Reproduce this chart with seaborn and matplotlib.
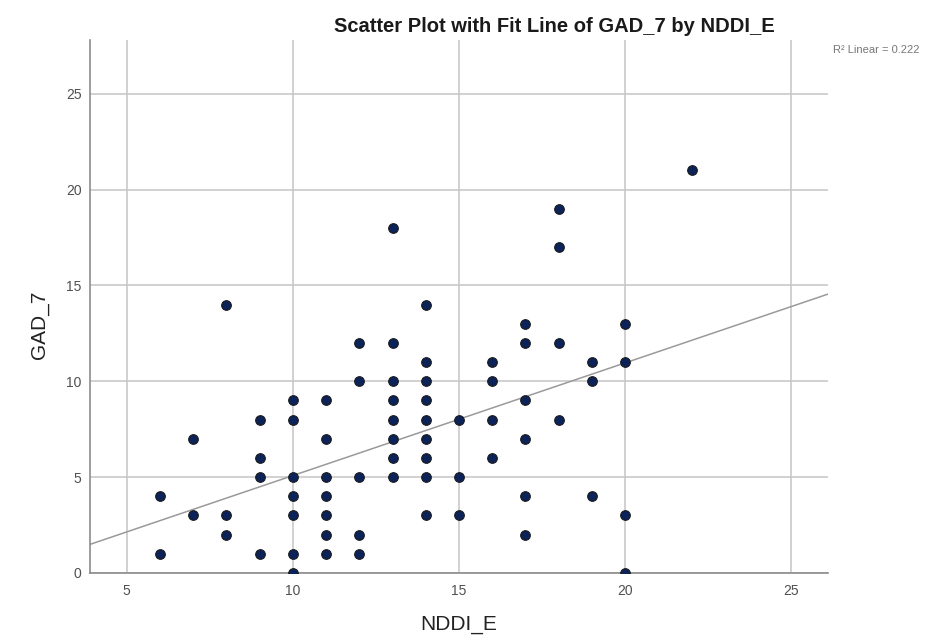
import numpy as np
import pandas as pd
import matplotlib
matplotlib.use("Agg")
import matplotlib.pyplot as plt
import seaborn as sns

# ---- data ----
nddi_e = (
    [6] * 2 + [7] * 2 + [8] * 3 + [9] * 4 + [10] * 7 + [11] * 7 + [12] * 5 +
    [13] * 8 + [14] * 9 + [15] * 3 + [16] * 4 + [17] * 6 + [18] * 4 +
    [19] * 3 + [20] * 4 + [22] * 1
)
gad_7 = [
    4, 1,
    7, 3,
    14, 3, 2,
    8, 6, 5, 1,
    9, 8, 5, 4, 3, 1, 0,
    9, 7, 5, 4, 3, 2, 1,
    12, 10, 5, 2, 1,
    18, 12, 10, 9, 8, 7, 6, 5,
    14, 11, 10, 9, 8, 7, 6, 5, 3,
    8, 5, 3,
    11, 10, 8, 6,
    13, 12, 9, 7, 4, 2,
    19, 17, 12, 8,
    11, 10, 4,
    13, 11, 3, 0,
    21,
]
# linear fit shown in the reference (the full data
# set behind it includes overlapping cases that cannot be seen)
fit_slope = 0.588
fit_intercept = -0.80
x_ticks = [5, 10, 15, 20, 25]
y_ticks = [0, 5, 10, 15, 20, 25]
title = "Scatter Plot with Fit Line of GAD_7 by NDDI_E"
r2_label = "R\u00b2 Linear = 0.222"

df = pd.DataFrame({"NDDI_E": nddi_e, "GAD_7": gad_7})

sns.set_style("white")
plt.rcParams["font.family"] = ["Liberation Sans", "DejaVu Sans"]

fig = plt.figure(figsize=(9.41, 6.39), dpi=100)
ax = fig.add_axes([90 / 941, 1 - 573 / 639, (828 - 90) / 941, (573 - 40) / 639])
xlim = (3.9, 26.1)
ylim = (0, 27.8)
ax.set_xlim(*xlim)
ax.set_ylim(*ylim)

grid_c = "#c9c9c9"
ax.set_xticks(x_ticks)
ax.set_yticks(y_ticks)
ax.grid(True, color=grid_c, linewidth=1.2)
ax.set_axisbelow(True)

# fit line across the full x range
fit_df = pd.DataFrame({"x": list(xlim)})
fit_df["y"] = fit_intercept + fit_slope * fit_df["x"]
sns.lineplot(data=fit_df, x="x", y="y", ax=ax, color="#9a9a9a", linewidth=1.1, zorder=2)

sns.scatterplot(
    data=df, x="NDDI_E", y="GAD_7", ax=ax, s=48, color="#0b2358",
    edgecolor="#1a1a1a", linewidth=0.8, zorder=3,
)
ax.set_xlim(*xlim)
ax.set_ylim(*ylim)

for s in ["top", "right"]:
    ax.spines[s].set_visible(False)
for s in ["left", "bottom"]:
    ax.spines[s].set_color("#8c8c8c")
    ax.spines[s].set_linewidth(1.2)

ax.tick_params(axis="both", length=0, labelsize=10, labelcolor="#505050")
ax.tick_params(axis="x", pad=8)
ax.tick_params(axis="y", pad=6)

ax.set_xlabel("")
ax.set_ylabel("")
fig.text(459 / 941, 1 - 625 / 639, "NDDI_E", ha="center", va="center",
         fontsize=15, color="#222222")
fig.text(40 / 941, 1 - 325 / 639, "GAD_7", ha="center", va="center",
         rotation=90, fontsize=15, color="#222222")

fig.text(554 / 941, 1 - 27 / 639, title, ha="center", va="center",
         fontsize=14.5, fontweight="bold", color="#1a1a1a")
fig.text(833 / 941, 1 - 50 / 639, r2_label, ha="left", va="center",
         fontsize=8, color="#777777")

fig.savefig("out.png", dpi=100, facecolor="white")
